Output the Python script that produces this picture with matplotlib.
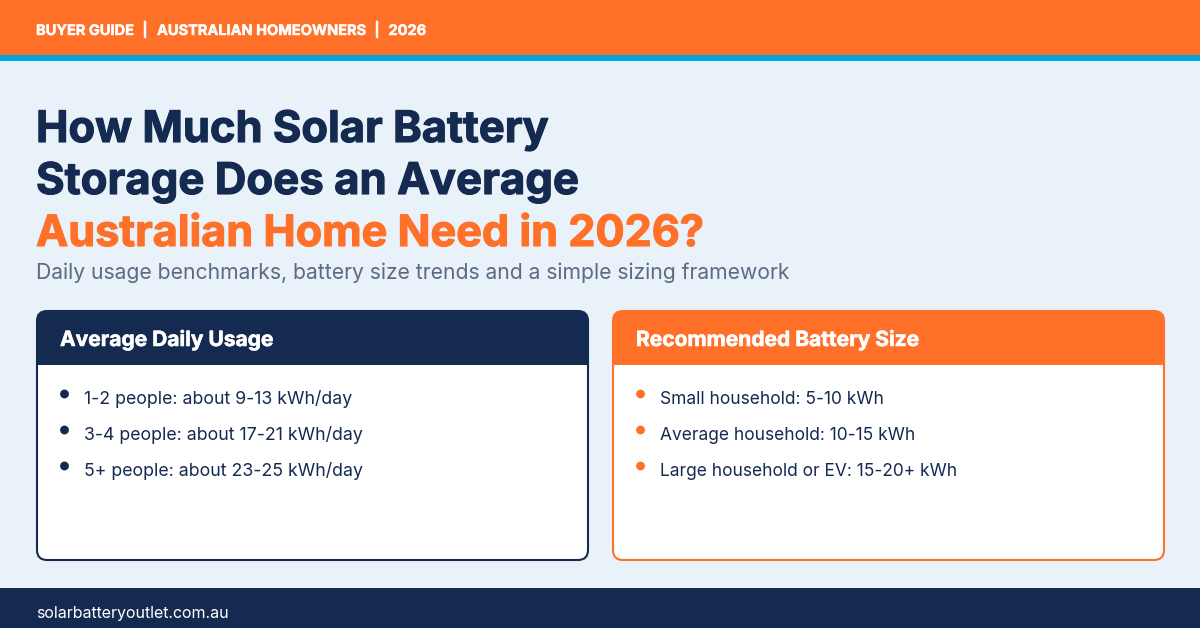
import matplotlib
matplotlib.use("Agg")
import matplotlib.pyplot as plt
import matplotlib.patheffects as pe
from matplotlib.patches import FancyBboxPatch, Rectangle, Circle

NAVY = "#152A50"
ORANGE = "#FF7029"
BLUE = "#00A5E0"
BG = "#E9F1F9"
GREY = "#5C6B80"
FONT = "Inter"

top_labels = ["BUYER GUIDE", "|", "AUSTRALIAN HOMEOWNERS", "|", "2026"]
title_navy = ["How Much Solar Battery", "Storage Does an Average"]
title_orange = "Australian Home Need in 2026?"
subtitle = "Daily usage benchmarks, battery size trends and a simple sizing framework"
left_head = "Average Daily Usage"
right_head = "Recommended Battery Size"
left_items = ["1-2 people: about 9-13 kWh/day", "3-4 people: about 17-21 kWh/day", "5+ people: about 23-25 kWh/day"]
right_items = ["Small household: 5-10 kWh", "Average household: 10-15 kWh", "Large household or EV: 15-20+ kWh"]
footer = "solarbatteryoutlet.com.au"

fig = plt.figure(figsize=(12, 6.28), dpi=100, facecolor=BG)
ax = fig.add_axes([0, 0, 1, 1])
ax.set_xlim(0, 1200)
ax.set_ylim(628, 0)
ax.axis("off")


def heavy(width):
    return [pe.withStroke(linewidth=width, foreground="none"), pe.Normal()]


def bold(t, color, width):
    t.set_path_effects([pe.Stroke(linewidth=width, foreground=color), pe.Normal()])


ax.add_patch(Rectangle((0, 0), 1200, 55, fc=ORANGE, ec="none"))
ax.add_patch(Rectangle((0, 55), 1200, 6, fc=BLUE, ec="none"))
ax.add_patch(Rectangle((0, 588), 1200, 40, fc=NAVY, ec="none"))

top_x = [36, 142.5, 157, 374, 388.5]
for x, s in zip(top_x, top_labels):
    t = ax.text(x, 35, s, color="white", fontsize=10.5, fontweight="bold", family=FONT, va="baseline", ha="left")
    bold(t, "white", 0.3)

for y, s, size in zip([142, 194], title_navy, [31.3, 31.5]):
    t = ax.text(36, y, s, color=NAVY, fontsize=size, fontweight="bold", family=FONT, va="baseline", ha="left")
    bold(t, NAVY, 0.8)
t = ax.text(36, 246, title_orange, color=ORANGE, fontsize=31.1, fontweight="bold", family=FONT, va="baseline", ha="left")
bold(t, ORANGE, 0.8)
ax.text(36, 279, subtitle, color=GREY, fontsize=15.2, family=FONT, va="baseline", ha="left")


def card(x0, x1, color, head, items, size):
    y0, y1 = 311, 560
    body = FancyBboxPatch((x0, y0), x1 - x0, y1 - y0, boxstyle="round,pad=0,rounding_size=10",
                          fc="white", ec="none", zorder=2)
    ax.add_patch(body)
    header = Rectangle((x0 - 2, y0 - 2), x1 - x0 + 4, 56, fc=color, ec="none", zorder=3)
    ax.add_patch(header)
    header.set_clip_path(body)
    ax.add_patch(FancyBboxPatch((x0, y0), x1 - x0, y1 - y0, boxstyle="round,pad=0,rounding_size=10",
                                fc="none", ec=color, lw=1.5, zorder=4))
    t = ax.text(x0 + 23, 346, head, color="white", fontsize=15.1, fontweight="bold", family=FONT,
                va="baseline", ha="left", zorder=5)
    bold(t, "white", 0.4)
    for y, s in zip([404, 440, 476], items):
        ax.add_patch(Circle((x0 + 27.5, y - 10), 4.4, fc=color, ec="none", zorder=5))
        ax.text(x0 + 47, y, s, color=NAVY, fontsize=size, family=FONT, va="baseline", ha="left", zorder=5)


card(37, 588, NAVY, left_head, left_items, 12.75)
card(613, 1164, ORANGE, right_head, right_items, 12.5)

ax.text(36, 618, footer, color="white", fontsize=11.5, family=FONT, va="baseline", ha="left")

fig.savefig("out.png", dpi=100, facecolor=BG)
